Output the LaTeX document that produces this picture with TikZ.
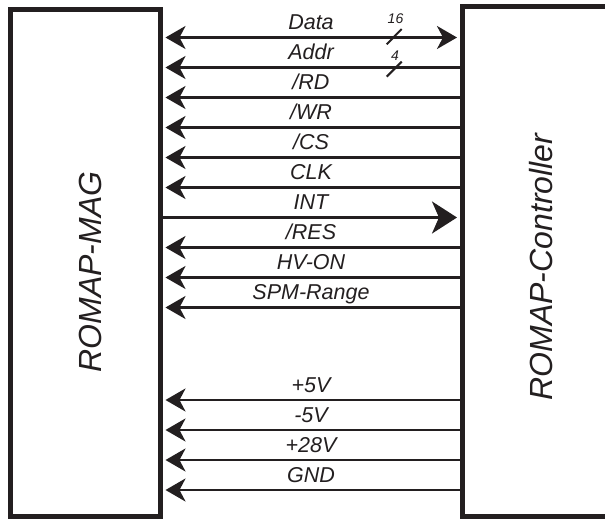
\documentclass[tikz,border=0pt]{standalone}
\usepackage{fontspec}
\setmainfont{Liberation Sans}
\usetikzlibrary{arrows.meta}
\definecolor{ink}{HTML}{231F20}
\begin{document}
\begin{tikzpicture}[x=1pt,y=-1pt,
  box/.style={draw=ink, line width=5pt, inner sep=0pt, rectangle},
  sig/.style={draw=ink, line width=2.5pt},
  tipL/.style={-{Stealth[length=20pt,width=23pt,inset=6pt]}},
  tipB/.style={{Stealth[length=20pt,width=23pt,inset=6pt]}-{Stealth[length=20pt,width=23pt,inset=6pt]}},
  tipR/.style={-{Stealth[length=25pt,width=32pt,inset=7pt]}},
  lab/.style={font=\itshape\fontsize{21.5}{21.5}\selectfont, text=ink, anchor=base, inner sep=0pt},
  buslab/.style={font=\itshape\fontsize{14}{14}\selectfont, text=ink, inner sep=0pt},
  title/.style={font=\itshape\fontsize{32}{32}\selectfont, text=ink, rotate=90, inner sep=0pt},
  slash/.style={draw=ink, line width=2pt}]
\useasboundingbox (0,0) rectangle (605,519);
\fill[white] (0,0) rectangle (605,519);
% boxes
\node[box, minimum width=150.5pt, minimum height=506pt] (mag) at (85.25,263) {};
\node[box, minimum width=158pt, minimum height=509.5pt] (ctrl) at (541,261.25) {};
\node[title] (tmag) at (90,272) {ROMAP-MAG};
\node[title] (tctrl) at (541,267) {ROMAP-Controller};
% signals pointing to ROMAP-MAG
\foreach \y/\t/\n in {67.5/{Addr}/a, 97.5/{/RD}/b, 127.5/{/WR}/c, 157.5/{/CS}/d, 187.5/{CLK}/e,
  247.5/{/RES}/g, 277.5/{HV-ON}/h, 307.5/{SPM-Range}/i, 400/{+5V}/j, 430/{-5V}/k, 460/{+28V}/l, 490/{GND}/m}{
  \coordinate (r\n) at (ctrl.west |- 0,\y);
  \coordinate (l\n) at ([xshift=2.5pt]mag.east |- 0,\y);
  \draw[sig, tipL] (r\n) -- (l\n);
  \node[lab] (t\n) at (311,\y-8) {\t};
}
% Data (bidirectional)
\coordinate (lData) at ([xshift=2.5pt]mag.east |- 0,37.5);
\coordinate (rData) at ([xshift=-2.5pt]ctrl.west |- 0,37.5);
\draw[sig, tipB] (lData) -- (rData);
\node[lab] (tData) at (311,29.5) {Data};
% INT (to controller)
\coordinate (lInt) at (mag.east |- 0,217.5);
\coordinate (rInt) at ([xshift=-2.5pt]ctrl.west |- 0,217.5);
\draw[sig, tipR] (lInt) -- (rInt);
\node[lab] (tInt) at (311,209.5) {INT};
% bus width marks
\draw[slash] (386.7,44.3) -- (401.7,29);
\node[buslab] (n16) at (395.5,19) {16};
\draw[slash] (386.7,76.7) -- (401.7,61.7);
\node[buslab] (n4) at (395,55.5) {4};
\end{tikzpicture}
\end{document}
